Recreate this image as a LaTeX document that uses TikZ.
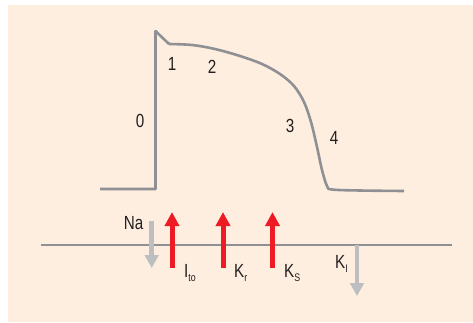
\documentclass[tikz,border=0pt]{standalone}
\usepackage{fontspec}
\setmainfont{Liberation Sans}[FakeStretch=0.8]
\usepackage{tikz}
\usetikzlibrary{arrows.meta}
\definecolor{peach}{HTML}{FEEEE0}
\definecolor{curvegray}{HTML}{8E9093}
\definecolor{fluxgray}{HTML}{BCBEC0}
\definecolor{fluxred}{HTML}{ED1C24}
\definecolor{labelink}{HTML}{231F20}
\newcommand{\ionsub}[1]{\raisebox{-4pt}{\fontsize{11}{11}\selectfont #1}}
\tikzset{
  phase/.style={font=\fontsize{19}{19}\selectfont,text=labelink,inner sep=0pt},
  ion/.style={font=\fontsize{19}{19}\selectfont,text=labelink,inner sep=0pt,anchor=base west},
  outward/.style={line width=5pt,fluxred,-{Triangle[width=14pt,length=14pt]}},
  inward/.style={line width=4.5pt,fluxgray,-{Triangle[width=13.5pt,length=13pt]}}
}

\begin{document}
\begin{tikzpicture}[x=1pt,y=-1pt]
\useasboundingbox (0,0) rectangle (473,322);
\fill[peach] (8,5) rectangle (473,322);
% action potential
\draw[curvegray,line width=2.6pt,line join=round] (100,189) -- (155.5,189) -- (155.5,31) -- (169,44);
\draw[curvegray,line width=2.6pt,line join=round] plot[smooth,tension=0.55] coordinates {(169,44) (192,45) (215,49) (240,56) (262,64) (280,74) (294,86) (304,102) (311,122) (317,147) (322,170) (327,186) (332,189.5) (360,190.5) (404,191)};
\foreach \nm/\xx/\yy/\lab in {ph0/140/121/0,ph1/172/64/1,ph2/212/66.5/2,ph3/290/126/3,ph4/334/138/4} {\node[phase] (\nm) at (\xx,\yy) {\lab};}
% membrane and currents
\draw[curvegray,line width=2.6pt] (41,245) -- (452,245);
\coordinate (naTop) at (151.7,221);
\coordinate (naEnd) at (151.7,268);
\coordinate (kiTop) at (357,245);
\coordinate (kiEnd) at (357,296);
\draw[inward] (naTop) -- (naEnd);
\draw[inward] (kiTop) -- (kiEnd);
\foreach \nm/\xx in {ito/172,kr/223,ks/272.5} {
  \coordinate (\nm Base) at (\xx,268);
  \coordinate (\nm Tip) at (\xx,212);
  \draw[outward] (\nm Base) -- (\nm Tip);
}
\node[phase] (na) at (133.5,223) {Na};
\node[ion] (itoLab) at (184,277) {I\ionsub{to}};
\node[ion] (krLab) at (234,277) {K\ionsub{r}};
\node[ion] (ksLab) at (284,277) {K\ionsub{S}};
\node[ion] (kiLab) at (335,268) {K\ionsub{I}};
\end{tikzpicture}
\end{document}
